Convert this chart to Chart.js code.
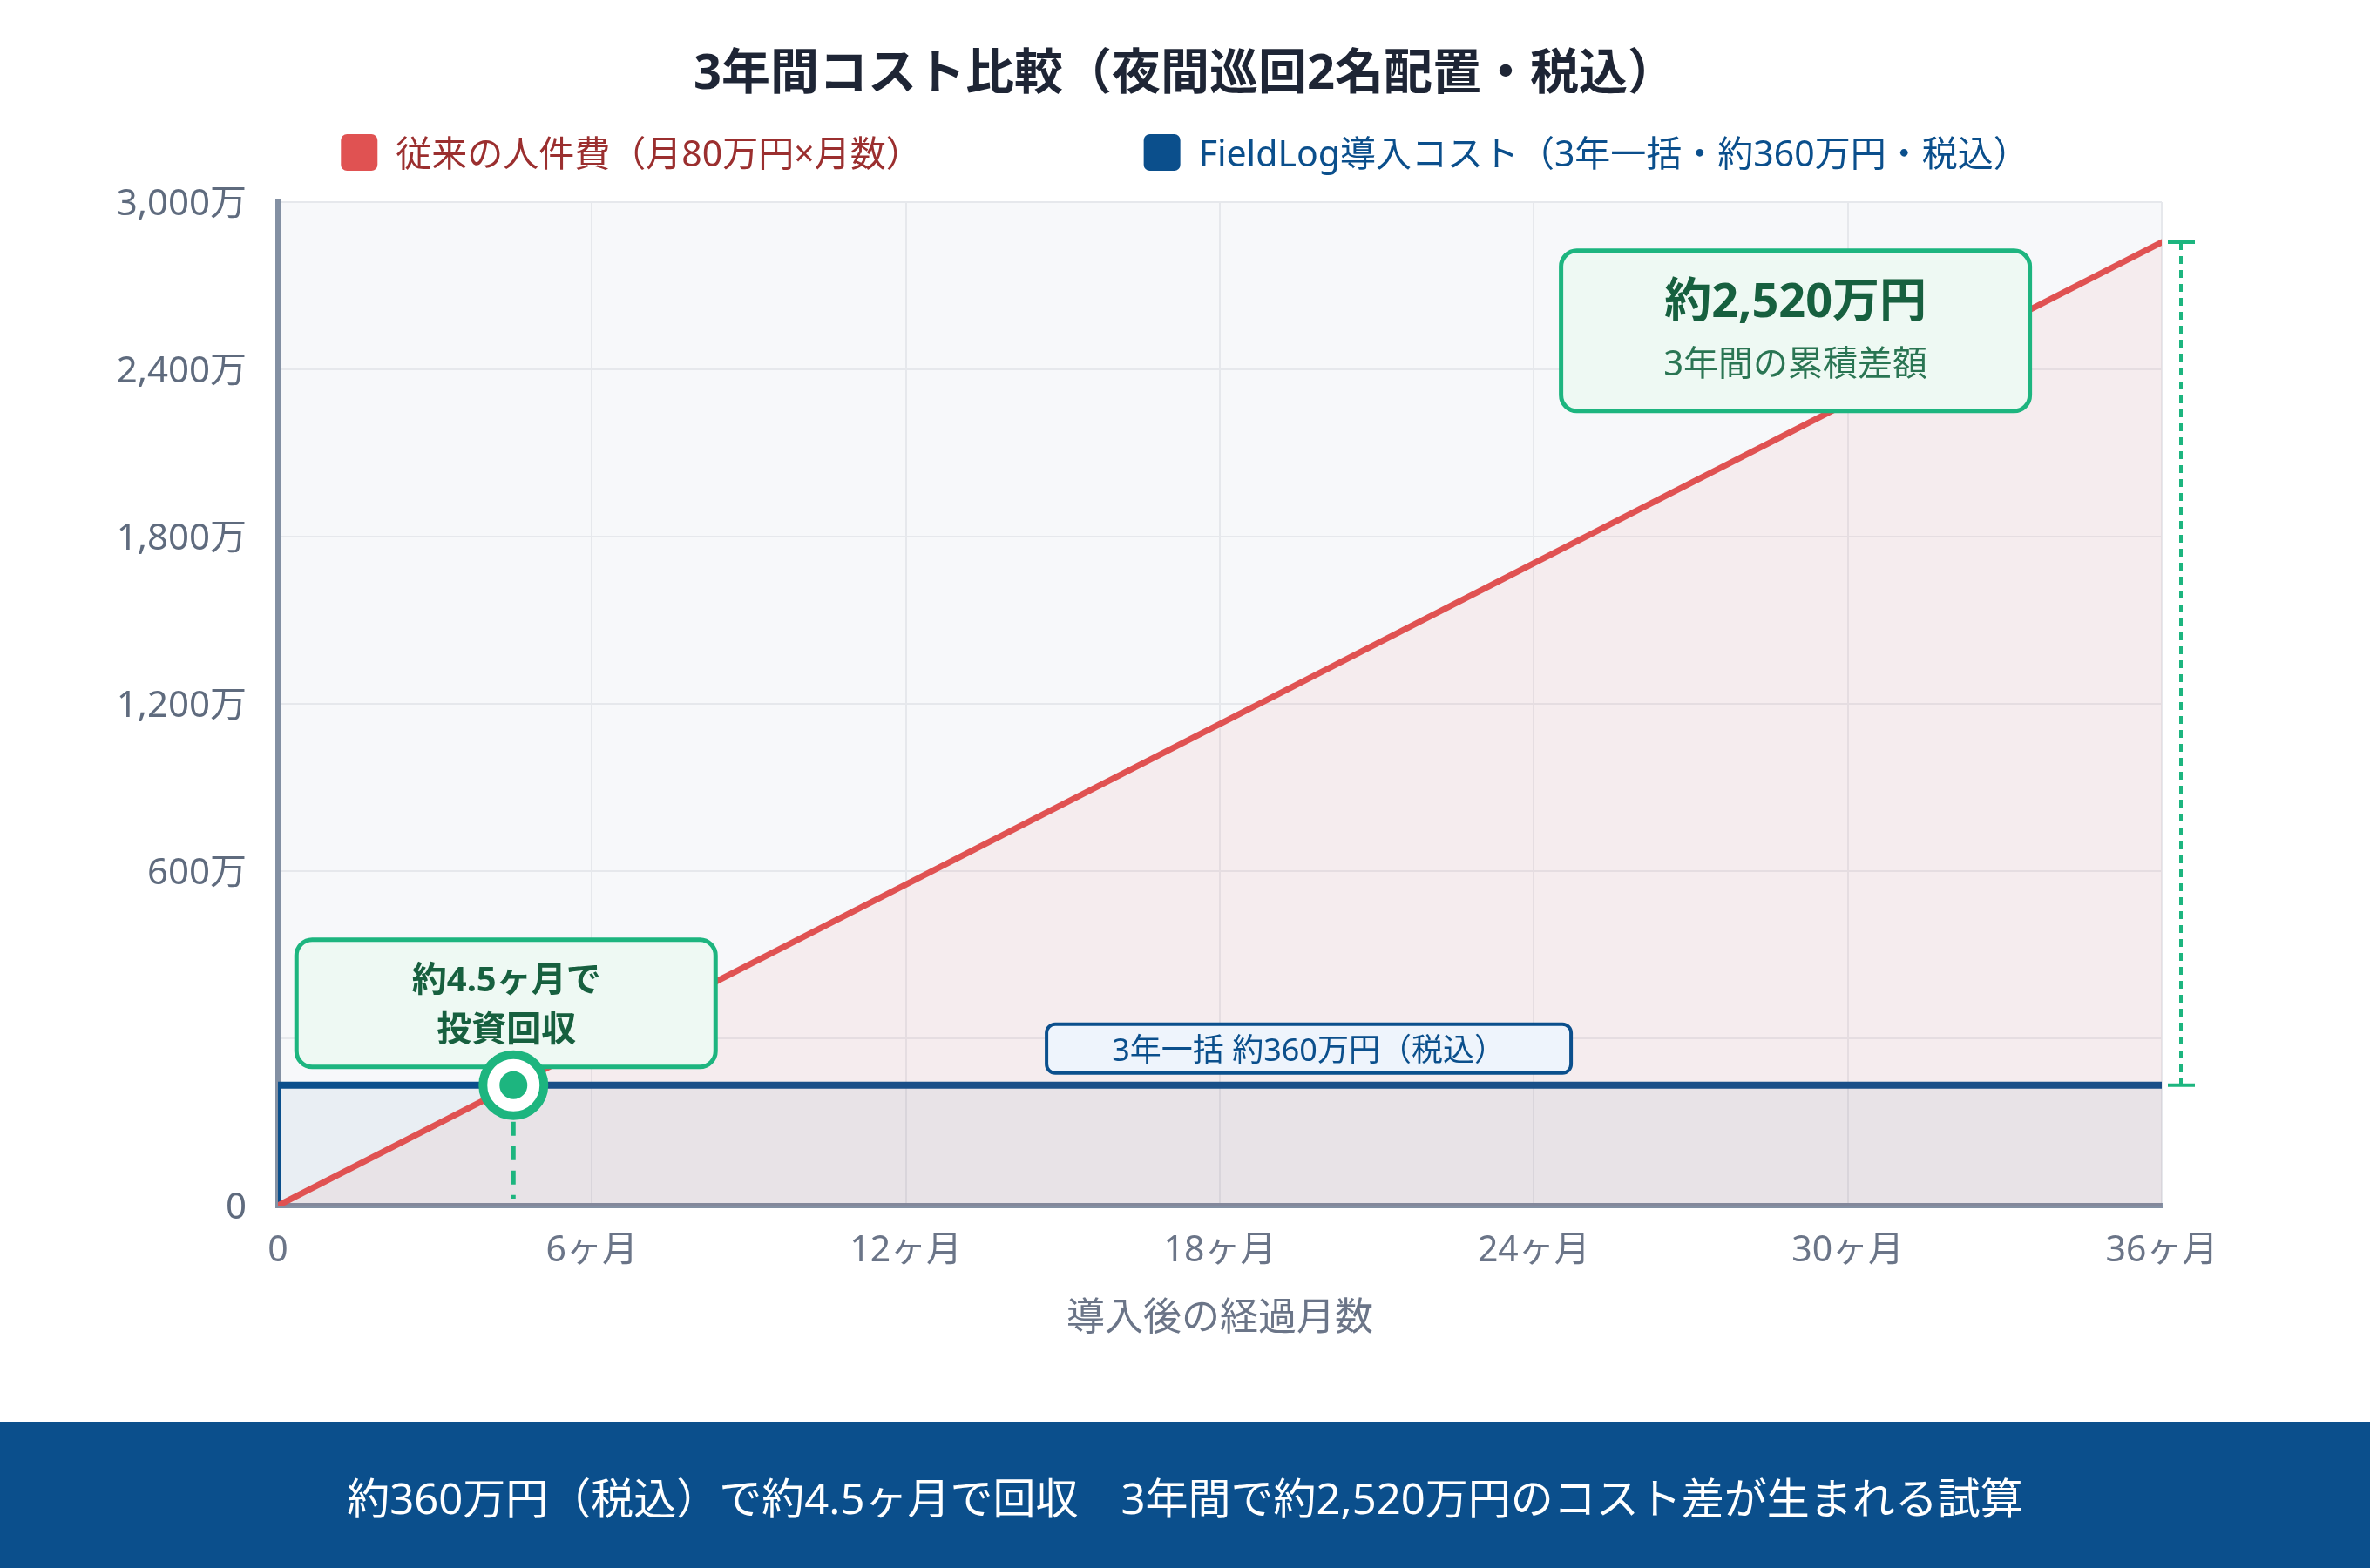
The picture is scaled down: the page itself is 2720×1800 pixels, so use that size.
<!DOCTYPE html>
<html lang="ja">
<head>
<meta charset="utf-8">
<title>3年間コスト比較</title>
<script src="https://cdn.jsdelivr.net/npm/chart.js@4.4.1/dist/chart.umd.min.js"></script>
<style>
  html, body { margin: 0; padding: 0; background: #fff; }
  body { width: 2720px; height: 1800px; overflow: hidden; font-family: "Noto Sans", "Noto Sans CJK JP", sans-serif; }
  #wrap { position: relative; width: 2720px; height: 1632px; }
  #banner {
    width: 2720px; height: 168px; background: #0b4f8c; color: #fff;
    font-size: 49px; display: flex; align-items: center; justify-content: center;
  }
</style>
</head>
<body>
<div id="wrap"><canvas id="costChart" width="2720" height="1632"></canvas></div>
<div id="banner">約360万円（税込）で約4.5ヶ月で回収　3年間で約2,520万円のコスト差が生まれる試算</div>
<script>
// data (万円)
const months = [0, 6, 12, 18, 24, 30, 36];
const laborCost = [0, 480, 960, 1440, 1920, 2400, 2880];
const fieldlogMonths = [0, 0, 36];
const fieldlogCost = [0, 360, 360];
const xTickLabels = ['0', '6ヶ月', '12ヶ月', '18ヶ月', '24ヶ月', '30ヶ月', '36ヶ月'];
const yTickLabels = ['0', '', '600万', '1,200万', '1,800万', '2,400万', '3,000万'];
const seriesLabels = ['従来の人件費（月80万円×月数）', 'FieldLog導入コスト（3年一括・約360万円・税込）'];
const breakEvenMonth = 4.5;
const breakEvenCost = 360;
const totalGap = 2520;

const FONT = '"Noto Sans", "Noto Sans CJK JP", sans-serif';
const RED = '#e05252';
const BLUE = '#0b4f8c';
const GREEN = '#1db57f';

function box(ctx, x, y, w, h, r, fill, stroke, lw) {
    ctx.beginPath();
    ctx.roundRect(x, y, w, h, r);
    ctx.fillStyle = fill;
    ctx.fill();
    if (stroke) {
        ctx.lineWidth = lw;
        ctx.strokeStyle = stroke;
        ctx.stroke();
    }
}

const overlay = {
    id: 'overlay',
    beforeDraw(chart) {
        const { ctx, chartArea: a } = chart;
        ctx.save();
        ctx.fillStyle = '#f7f8fa';
        ctx.fillRect(a.left, a.top, a.right - a.left, a.bottom - a.top);
        ctx.restore();
    },
    afterDatasetsDraw(chart) {
        const { ctx, chartArea: a } = chart;
        const xs = chart.scales.x, ys = chart.scales.y;
        ctx.save();
        ctx.textAlign = 'center';
        ctx.textBaseline = 'middle';

        // gap bracket on the right
        const bx = a.right + 22;
        const yTop = ys.getPixelForValue(breakEvenCost + totalGap);
        const yBot = ys.getPixelForValue(breakEvenCost);
        ctx.strokeStyle = GREEN;
        ctx.lineWidth = 4;
        ctx.setLineDash([9, 7]);
        ctx.beginPath();
        ctx.moveTo(bx, yTop);
        ctx.lineTo(bx, yBot);
        ctx.stroke();
        ctx.setLineDash([]);
        ctx.beginPath();
        ctx.moveTo(bx - 15, yTop); ctx.lineTo(bx + 16, yTop);
        ctx.moveTo(bx - 15, yBot); ctx.lineTo(bx + 16, yBot);
        ctx.stroke();

        // big difference label
        const gx = xs.getPixelForValue(29);
        const gy = ys.getPixelForValue(2615);
        box(ctx, gx - 269, gy - 92, 538, 184, 18, '#eef9f3', GREEN, 5);
        ctx.fillStyle = '#17603f';
        ctx.font = 'bold 54px ' + FONT;
        ctx.fillText('約2,520万円', gx, gy - 31);
        ctx.fillStyle = '#2a7553';
        ctx.font = '40px ' + FONT;
        ctx.fillText('3年間の累積差額', gx, gy + 40);

        // blue cost label
        const cx = xs.getPixelForValue(19.7);
        const cy = ys.getPixelForValue(breakEvenCost);
        box(ctx, cx - 301, cy - 70, 602, 56, 10, '#eef4fc', BLUE, 4);
        ctx.fillStyle = BLUE;
        ctx.font = '36px ' + FONT;
        ctx.fillText('3年一括 約360万円（税込）', cx, cy - 38);

        // break-even marker
        const px = xs.getPixelForValue(breakEvenMonth);
        const py = ys.getPixelForValue(breakEvenCost);
        ctx.strokeStyle = GREEN;
        ctx.lineWidth = 5;
        ctx.setLineDash([16, 12]);
        ctx.beginPath();
        ctx.moveTo(px, py + 42);
        ctx.lineTo(px, a.bottom - 8);
        ctx.stroke();
        ctx.setLineDash([]);

        box(ctx, px - 249, py - 167, 481, 146, 18, '#eef9f3', GREEN, 5);
        ctx.fillStyle = '#17603f';
        ctx.font = 'bold 40px ' + FONT;
        ctx.fillText('約4.5ヶ月で', px - 8, py - 119);
        ctx.fillText('投資回収', px - 8, py - 62);

        ctx.beginPath();
        ctx.arc(px, py, 35, 0, Math.PI * 2);
        ctx.fillStyle = '#fff';
        ctx.fill();
        ctx.lineWidth = 10;
        ctx.strokeStyle = GREEN;
        ctx.stroke();
        ctx.beginPath();
        ctx.arc(px, py, 16, 0, Math.PI * 2);
        ctx.fillStyle = GREEN;
        ctx.fill();
        ctx.restore();
    },
    afterDraw(chart) {
        const { ctx, width } = chart;
        ctx.save();
        ctx.textBaseline = 'middle';
        ctx.textAlign = 'center';
        ctx.fillStyle = '#1e2535';
        ctx.font = 'bold 56px ' + FONT;
        ctx.fillText('3年間コスト比較（夜間巡回2名配置・税込）', width / 2, 86);

        // legend
        ctx.font = '41px ' + FONT;
        ctx.textAlign = 'left';
        const colors = [RED, BLUE];
        const textColors = ['#9b2f2f', BLUE];
        const widths = seriesLabels.map(t => 42 + 21 + ctx.measureText(t).width);
        const gapW = 255;
        let x = width / 2 - (widths[0] + widths[1] + gapW) / 2;
        seriesLabels.forEach((t, i) => {
            box(ctx, x, 154, 42, 42, 7, colors[i]);
            ctx.fillStyle = textColors[i];
            ctx.fillText(t, x + 63, 179);
            x += widths[i] + gapW;
        });
        ctx.restore();
    }
};

const ctx = document.getElementById('costChart').getContext('2d');
const costChart = new Chart(ctx, {
    type: 'line',
    data: {
        datasets: [{
            label: seriesLabels[0],
            data: months.map((m, i) => ({ x: m, y: laborCost[i] })),
            borderColor: RED,
            backgroundColor: 'rgba(224, 82, 82, 0.07)',
            borderWidth: 7,
            borderCapStyle: 'round',
            fill: 'origin',
            pointRadius: 0,
            tension: 0
        }, {
            label: seriesLabels[1],
            data: fieldlogMonths.map((m, i) => ({ x: m, y: fieldlogCost[i] })),
            borderColor: BLUE,
            backgroundColor: 'rgba(11, 79, 140, 0.06)',
            borderWidth: 8,
            borderCapStyle: 'round',
            fill: 'origin',
            pointRadius: 0,
            tension: 0
        }]
    },
    options: {
        responsive: false,
        animation: false,
        layout: {
            padding: { top: 232, right: 239, bottom: 91, left: 0 }
        },
        plugins: {
            legend: { display: false },
            title: { display: false },
            tooltip: { enabled: false }
        },
        scales: {
            x: {
                type: 'linear',
                min: 0,
                max: 36,
                afterFit: s => { s.height = 157; },
                ticks: {
                    stepSize: 6,
                    padding: 28,
                    color: '#6b7588',
                    font: { family: FONT, size: 41 },
                    callback: (v, i) => xTickLabels[i]
                },
                grid: { color: '#e6e8ec', lineWidth: 2, drawTicks: false },
                border: { color: '#8390a3', width: 6 },
                title: {
                    display: true,
                    text: '導入後の経過月数',
                    color: '#6b7588',
                    font: { family: FONT, size: 44 },
                    padding: 0
                }
            },
            y: {
                min: 0,
                max: 3000,
                afterFit: s => { s.width = 319; },
                ticks: {
                    stepSize: 500,
                    padding: 36,
                    labelOffset: 3,
                    color: '#5f6b7e',
                    font: { family: FONT, size: 42 },
                    callback: (v, i) => yTickLabels[i]
                },
                grid: { color: '#e6e8ec', lineWidth: 2, drawTicks: false },
                border: { color: '#8390a3', width: 6 }
            }
        }
    },
    plugins: [overlay]
});
</script>
</body>
</html>
